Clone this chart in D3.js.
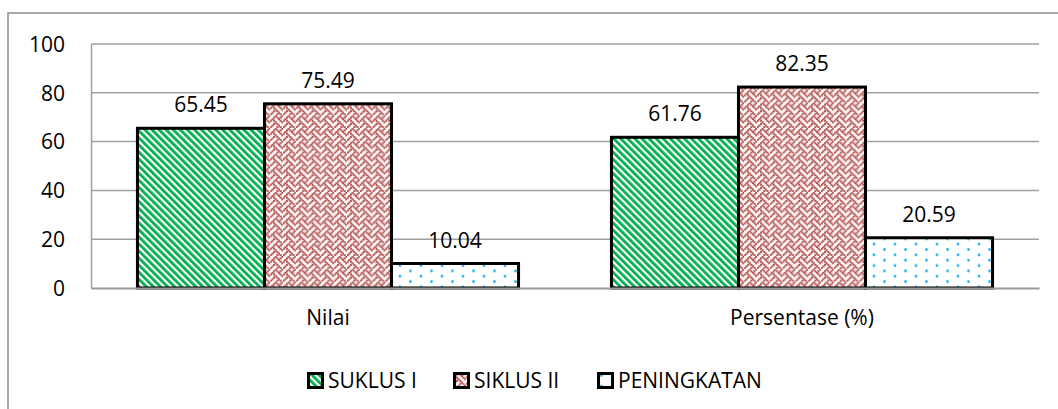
<!DOCTYPE html>
<html>
<head>
<meta charset="utf-8">
<script src="https://cdn.jsdelivr.net/npm/d3@7"></script>
<style>
  body { margin: 0; background: #fff; }
  text { font-family: "Open Sans", "Noto Sans", sans-serif; fill: #000; }
</style>
</head>
<body>
<div id="chart"></div>
<script>
// chart data
const categories = ["Nilai", "Persentase (%)"];
const seriesNames = ["SUKLUS I", "SIKLUS II", "PENINGKATAN"];
const suklusI = [65.45, 61.76];
const siklusII = [75.49, 82.35];
const peningkatan = [10.04, 20.59];
const yTicks = [0, 20, 40, 60, 80, 100];

const seriesValues = [suklusI, siklusII, peningkatan];
const width = 1058, height = 409;
const margin = {top: 44, right: 19, bottom: 121, left: 91};
const fontSize = "21px";

const svg = d3.select("#chart").append("svg")
  .attr("width", width)
  .attr("height", height);

// patterns
const defs = svg.append("defs");
const green = defs.append("pattern")
  .attr("id", "pat0")
  .attr("patternUnits", "userSpaceOnUse")
  .attr("width", 5).attr("height", 5)
  .attr("patternTransform", "rotate(-45)");
green.append("rect").attr("width", 5).attr("height", 5).attr("fill", "#fff");
green.append("rect").attr("width", 2.8).attr("height", 5).attr("fill", "#00b050");

// weave bitmap for the second series
const weave = [0x11, 0x2a, 0x44, 0xa2, 0x11, 0x28, 0x44, 0x8a];
const px = 1.6;
const red = defs.append("pattern")
  .attr("id", "pat1")
  .attr("patternUnits", "userSpaceOnUse")
  .attr("width", 8 * px).attr("height", 8 * px);
red.append("rect").attr("width", 8 * px).attr("height", 8 * px).attr("fill", "#fff");
weave.forEach((row, r) => {
  for (let c = 0; c < 8; c++) {
    if (row & (0x80 >> c)) {
      red.append("rect")
        .attr("x", c * px - 0.25).attr("y", r * px - 0.25)
        .attr("width", px + 0.5).attr("height", px + 0.5)
        .attr("fill", "#b5524e");
    }
  }
});

const blue = defs.append("pattern")
  .attr("id", "pat2")
  .attr("patternUnits", "userSpaceOnUse")
  .attr("width", 21).attr("height", 10.7)
  .attr("x", 3).attr("y", 2);
blue.append("rect").attr("width", 21).attr("height", 10.7).attr("fill", "#fff");
blue.append("circle").attr("cx", 1.5).attr("cy", 1.5).attr("r", 1.4).attr("fill", "#22b4f2");
blue.append("circle").attr("cx", 12).attr("cy", 6.85).attr("r", 1.4).attr("fill", "#22b4f2");

const fills = ["url(#pat0)", "url(#pat1)", "url(#pat2)"];

// outer frame
svg.append("rect")
  .attr("x", 8).attr("y", 13)
  .attr("width", 1060).attr("height", 420)
  .attr("fill", "none")
  .attr("stroke", "#8c8c8c")
  .attr("stroke-width", 1.5);

const x0 = d3.scaleBand(categories, [margin.left, width - margin.right]);
const x1 = d3.scaleBand(seriesNames, [x0.bandwidth() * 0.098, x0.bandwidth() * 0.902]);
const y = d3.scaleLinear([0, 100], [height - margin.bottom, margin.top]);

// gridlines
svg.append("g")
  .selectAll("line")
  .data(yTicks.filter(d => d > 0))
  .join("line")
    .attr("x1", margin.left).attr("x2", width - margin.right)
    .attr("y1", d => y(d)).attr("y2", d => y(d))
    .attr("stroke", "#a0a0a0")
    .attr("stroke-width", 1.5);

// y axis
const yAxis = d3.axisLeft(y).tickValues(yTicks).tickSize(0).tickPadding(26);
const yG = svg.append("g")
  .attr("transform", `translate(${margin.left},0)`)
  .call(yAxis);
yG.select(".domain").attr("stroke", "#a0a0a0").attr("stroke-width", 1.5);
yG.selectAll("text").style("font-size", fontSize).attr("dy", "0.35em");

// bars
const groups = svg.append("g")
  .selectAll("g")
  .data(categories)
  .join("g")
    .attr("transform", d => `translate(${x0(d)},0)`);

groups.selectAll("rect")
  .data((d, i) => seriesNames.map((s, j) => ({s, j, v: seriesValues[j][i]})))
  .join("rect")
    .attr("x", d => x1(d.s))
    .attr("y", d => y(d.v))
    .attr("width", x1.bandwidth())
    .attr("height", d => y(0) - y(d.v))
    .attr("fill", d => fills[d.j])
    .attr("stroke", "#000")
    .attr("stroke-width", 3);

groups.selectAll("text.val")
  .data((d, i) => seriesNames.map((s, j) => ({s, j, v: seriesValues[j][i]})))
  .join("text")
    .attr("class", "val")
    .attr("x", d => x1(d.s) + x1.bandwidth() / 2)
    .attr("y", d => y(d.v) - 16)
    .attr("text-anchor", "middle")
    .style("font-size", fontSize)
    .text(d => d3.format(".2f")(d.v));

// x axis
const xAxis = d3.axisBottom(x0).tickSize(0).tickPadding(22);
const xG = svg.append("g")
  .attr("transform", `translate(0,${y(0)})`)
  .call(xAxis);
xG.select(".domain").attr("stroke", "#9a9a9a").attr("stroke-width", 2);
xG.selectAll("text").style("font-size", fontSize);

// legend
const legendX = [307, 453, 597];
const legend = svg.append("g")
  .selectAll("g")
  .data(seriesNames)
  .join("g")
    .attr("transform", (d, i) => `translate(${legendX[i]},372)`);
legend.append("rect")
  .attr("x", 1.5).attr("y", 1.5)
  .attr("width", 14).attr("height", 14)
  .attr("fill", (d, i) => fills[i])
  .attr("stroke", "#000")
  .attr("stroke-width", 3);
legend.append("text")
  .attr("x", 21).attr("y", 16)
  .style("font-size", fontSize)
  .text(d => d);
</script>
</body>
</html>
